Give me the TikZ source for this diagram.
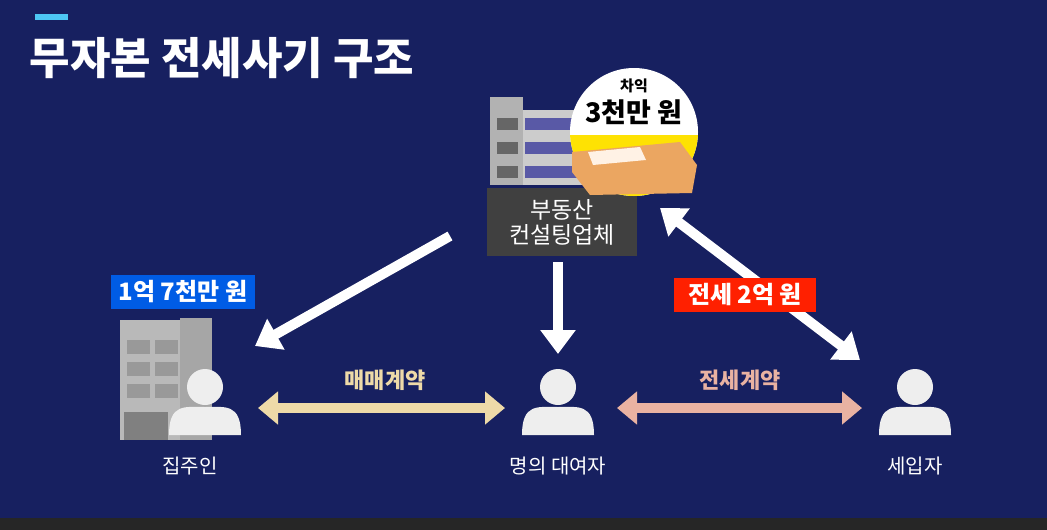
\documentclass[tikz,border=0pt]{standalone}
\usepackage{fontspec}
\setmainfont{Noto Sans CJK KR}
\usetikzlibrary{arrows.meta}
\definecolor{bg}{HTML}{172060}
\definecolor{tan}{HTML}{EEDAA8}
\definecolor{pinkc}{HTML}{E9B2A2}
\definecolor{icon}{HTML}{EEEEEE}
\newcommand{\fs}[1]{\fontsize{#1}{#1}\selectfont}
\tikzset{
 wa/.style={white,line width=10pt,-{Triangle[length=24pt,width=34pt]}},
 ca/.style={line width=10pt,{Triangle[length=20pt,width=32pt]}-{Triangle[length=20pt,width=32pt]}},
 lbl/.style={text=white,font=\fs{20}},
 tag/.style={text=white,font=\bfseries\fs{24},inner xsep=8pt,inner ysep=6pt},
}
\newcommand{\person}[2]{%
 \fill[icon] (#1,#2-8) circle (18);
 \fill[icon] (#1-36,#2+40) .. controls (#1-36,#2+8) and (#1-20,#2+12) .. (#1,#2+12) .. controls (#1+20,#2+12) and (#1+36,#2+8) .. (#1+36,#2+40) -- cycle;}
\begin{document}
\begin{tikzpicture}[x=1pt,y=-1pt]
\fill[bg] (0,0) rectangle (1047,530);
\fill[black!85] (0,518) rectangle (1047,530);
\fill[cyan!70!white] (35,14) rectangle (68,20);
\node[anchor=west,text=white,font=\bfseries\fs{44}] (title) at (26,58) {무자본 전세사기 구조};
% top building
\fill[gray!60] (490,97) rectangle (523,185);
\fill[gray!40] (523,110) rectangle (640,185);
\foreach \y in {118,142,166}{\fill[black!60] (497,\y) rectangle (518,\y+12); \fill[gray!70!blue] (525,\y) rectangle (640,\y+12);}
\node[fill=black!75,text=white,font=\fs{23},minimum width=150pt,minimum height=68pt,align=center,inner sep=2pt] (firm) at (562,222) {부동산\\[2pt]컨설팅업체};
\begin{scope}
\clip (634,132) circle (64);
\fill[white] (570,60) rectangle (700,200);
\fill[yellow!85!orange] (570,135) rectangle (700,200);
\end{scope}
\fill[orange!55!brown!70!white] (572,152) -- (680,142) -- (697,165) -- (692,193) -- (590,195) -- (572,172) -- cycle;
\fill[white!90!orange] (588,152) -- (640,147) -- (646,160) -- (593,165) -- cycle;
\node[font=\bfseries\fs{15}] (cha) at (634,86) {차익};
\node[font=\bfseries\fs{27}] (amt) at (634,112) {3천만 원};
% left building
\fill[gray!55] (120,320) rectangle (190,440);
\fill[gray!70] (180,318) rectangle (212,440);
\foreach \y in {340,362,384}{\fill[gray!80] (127,\y) rectangle (150,\y+14); \fill[gray!80] (155,\y) rectangle (178,\y+14);}
\fill[black!50] (124,412) rectangle (168,440);
\person{205}{395}
\person{558}{395}
\person{915}{395}
\node[lbl] (p1) at (190,466) {집주인};
\node[lbl] (p2) at (558,466) {명의 대여자};
\node[lbl] (p3) at (915,466) {세입자};
\coordinate (a1s) at (450,236); \coordinate (a1e) at (255,346);
\draw[wa] (a1s) -- (a1e);
\coordinate (a2s) at (558,262); \coordinate (a2e) at (558,354);
\draw[wa] (a2s) -- (a2e);
\coordinate (a3s) at (660,208); \coordinate (a3e) at (860,360);
\draw[white,line width=10pt,{Triangle[length=24pt,width=34pt]}-{Triangle[length=24pt,width=34pt]}] (a3s) -- (a3e);
\node[tag,fill=blue!60!cyan!90!black] (t1) at (183,292) {1억 7천만 원};
\node[tag,fill=red!75!orange,inner xsep=14pt] (t2) at (745,295) {전세 2억 원};
\coordinate (b1s) at (258,408); \coordinate (b1e) at (505,408);
\draw[ca,tan] (b1s) -- (b1e);
\node[text=tan,font=\bfseries\fs{22}] (l1) at (385,380) {매매계약};
\coordinate (b2s) at (617,408); \coordinate (b2e) at (862,408);
\draw[ca,pinkc] (b2s) -- (b2e);
\node[text=pinkc,font=\bfseries\fs{22}] (l2) at (740,380) {전세계약};
\end{tikzpicture}
\end{document}
